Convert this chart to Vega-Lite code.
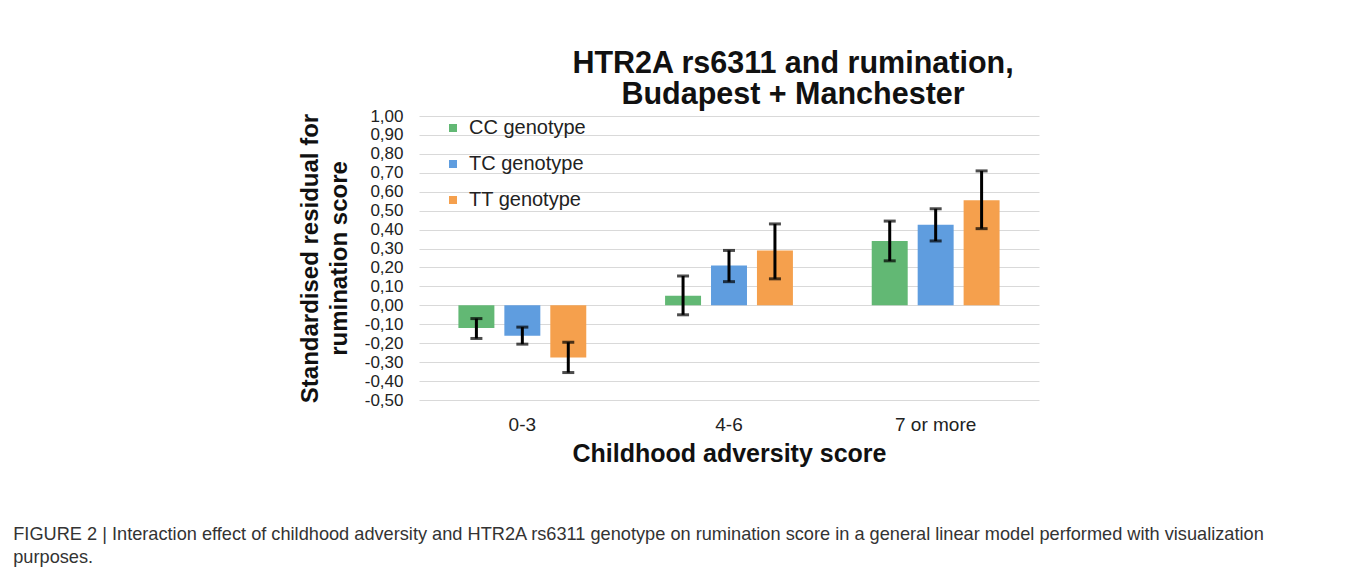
{
  "$schema": "https://vega.github.io/schema/vega-lite/v6.json",
  "background": "white",
  "padding": {"left": 13, "top": 48, "right": 5, "bottom": 5},
  "title": {
    "text": ["FIGURE 2 | Interaction effect of childhood adversity and HTR2A rs6311 genotype on rumination score in a general linear model performed with visualization", "purposes."],
    "orient": "bottom",
    "anchor": "start",
    "dx": -285,
    "offset": 60,
    "font": "Liberation Sans",
    "fontSize": 18.2,
    "fontWeight": "normal",
    "color": "#333333",
    "lineHeight": 23
  },
  "data": {
    "values": [
      {"group": "0-3", "genotype": "CC genotype", "value": -0.12, "lo": -0.175, "hi": -0.07},
      {"group": "0-3", "genotype": "TC genotype", "value": -0.16, "lo": -0.205, "hi": -0.115},
      {"group": "0-3", "genotype": "TT genotype", "value": -0.275, "lo": -0.355, "hi": -0.195},
      {"group": "4-6", "genotype": "CC genotype", "value": 0.05, "lo": -0.05, "hi": 0.155},
      {"group": "4-6", "genotype": "TC genotype", "value": 0.21, "lo": 0.125, "hi": 0.29},
      {"group": "4-6", "genotype": "TT genotype", "value": 0.29, "lo": 0.14, "hi": 0.43},
      {"group": "7 or more", "genotype": "CC genotype", "value": 0.34, "lo": 0.235, "hi": 0.445},
      {"group": "7 or more", "genotype": "TC genotype", "value": 0.425, "lo": 0.34, "hi": 0.51},
      {"group": "7 or more", "genotype": "TT genotype", "value": 0.555, "lo": 0.405, "hi": 0.71}
    ]
  },
  "vconcat": [
    {
      "width": 620,
      "height": 284,
      "title": {
        "text": ["HTR2A rs6311 and rumination,", "Budapest + Manchester"],
        "anchor": "middle",
        "dx": 64,
        "font": "Liberation Sans",
        "fontSize": 30.5,
        "fontWeight": "bold",
        "color": "#111111",
        "lineHeight": 31,
        "offset": -3
      },
      "encoding": {
        "x": {
          "field": "group",
          "type": "nominal",
          "sort": ["0-3", "4-6", "7 or more"],
          "scale": {"paddingInner": 0.3333, "paddingOuter": 0.1667},
          "axis": {
            "title": "Childhood adversity score",
            "labelAngle": 0,
            "labelFont": "Liberation Sans",
            "labelFontSize": 19,
            "labelColor": "#222222",
            "labelPadding": 15,
            "ticks": false,
            "domain": false,
            "titleFont": "Liberation Sans",
            "titleFontSize": 25,
            "titleFontWeight": "bold",
            "titleColor": "#111111",
            "titlePadding": 7
          }
        },
        "xOffset": {
          "field": "genotype",
          "type": "nominal",
          "sort": ["CC genotype", "TC genotype", "TT genotype"],
          "scale": {"paddingInner": 0.217, "paddingOuter": 0.108}
        }
      },
      "layer": [
        {
          "mark": {"type": "bar"},
          "encoding": {
            "y": {
              "field": "value",
              "type": "quantitative",
              "scale": {"domain": [-0.5, 1.0], "nice": false, "zero": false},
              "axis": {
                "title": ["Standardised residual for", "rumination score"],
                "values": [-0.5, -0.4, -0.3, -0.2, -0.1, 0, 0.1, 0.2, 0.3, 0.4, 0.5, 0.6, 0.7, 0.8, 0.9, 1.0],
                "tickCount": 20,
                "labelExpr": "replace(replace(format(datum.value, '.2f'), '.', ','), '\u2212', '-')",
                "labelOverlap": false,
                "labelFont": "Liberation Sans",
                "labelFontSize": 17,
                "labelColor": "#222222",
                "labelPadding": 16,
                "ticks": false,
                "domain": false,
                "grid": true,
                "gridColor": "#d9d9d9",
                "gridWidth": 1,
                "titleFont": "Liberation Sans",
                "titleFontSize": 24,
                "titleFontWeight": "bold",
                "titleColor": "#111111",
                "titlePadding": 13,
                "titleLineHeight": 29
              }
            },
            "color": {
              "field": "genotype",
              "type": "nominal",
              "sort": ["CC genotype", "TC genotype", "TT genotype"],
              "scale": {"domain": ["CC genotype", "TC genotype", "TT genotype"], "range": ["#62b874", "#5f9ddf", "#f5a04d"]},
              "legend": {
                "title": null,
                "orient": "none",
                "legendX": 24,
                "legendY": 2,
                "symbolType": "square",
                "symbolSize": 64,
                "symbolStrokeWidth": 0,
                "labelFont": "Liberation Sans",
                "labelFontSize": 20,
                "labelColor": "#222222",
                "labelOffset": 6,
                "rowPadding": 16
              }
            }
          }
        },
        {
          "mark": {"type": "rule", "color": "black", "strokeWidth": 3},
          "encoding": {
            "y": {"field": "lo", "type": "quantitative"},
            "y2": {"field": "hi"}
          }
        },
        {
          "mark": {"type": "tick", "color": "black", "thickness": 3, "size": 12},
          "encoding": {
            "y": {"field": "lo", "type": "quantitative"}
          }
        },
        {
          "mark": {"type": "tick", "color": "black", "thickness": 3, "size": 12},
          "encoding": {
            "y": {"field": "hi", "type": "quantitative"}
          }
        }
      ]
    }
  ],
  "config": {
    "view": {"stroke": null},
    "axisY": {"labelOverlap": false},
    "axis": {"labelOverlap": false}
  }
}
